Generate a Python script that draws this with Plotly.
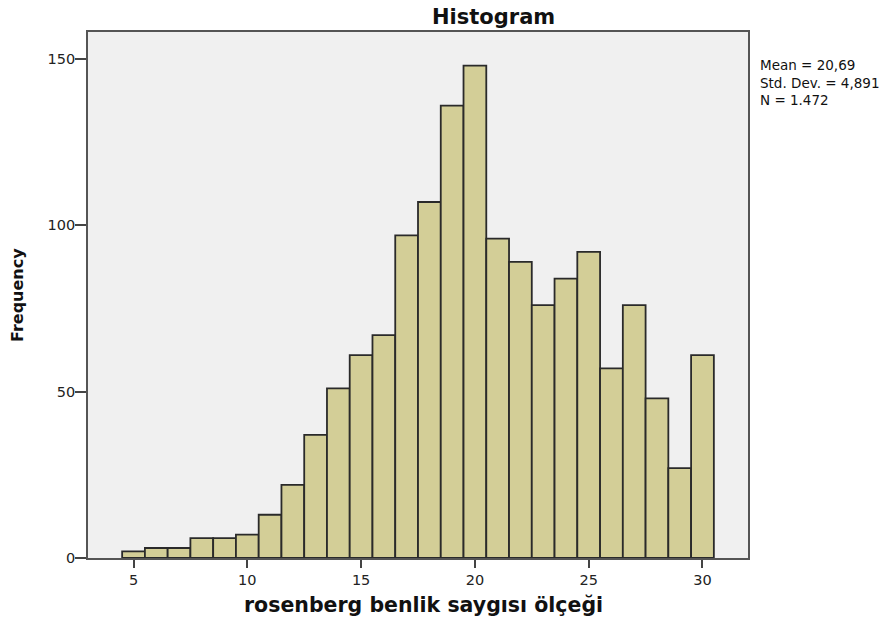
import plotly.graph_objects as go

# Score values (bin centres) and their frequencies
scores = list(range(5, 31))
freq = [2, 3, 3, 6, 6, 7, 13, 22, 37, 51, 61, 67, 97, 107, 136, 148,
        96, 89, 76, 84, 92, 57, 76, 48, 27, 61]

x_ticks = [5, 10, 15, 20, 25, 30]
y_ticks = [0, 50, 100, 150]

stats_lines = ["Mean = 20,69", "Std. Dev. = 4,891", "N = 1.472"]

FONT = "DejaVu Sans, Verdana, sans-serif"

# plot area in pixels
L, R, T, B = 88, 748, 32, 558
W, H = 894, 622
plot_h = B - T
plot_w = R - L


def py(pix):
    """Paper y coordinate for a pixel row."""
    return (B - pix) / plot_h


def px(pix):
    """Paper x coordinate for a pixel column."""
    return (pix - L) / plot_w


fig = go.Figure(
    go.Bar(
        x=scores,
        y=freq,
        width=1,
        marker=dict(color="#d3ce97", line=dict(color="#2a2a2a", width=1.8)),
        hoverinfo="x+y",
    )
)

annotations = [
    dict(text="<b>Histogram</b>", x=px(493), y=py(16.5), xanchor="center",
         yanchor="middle", font=dict(size=21, family=FONT, color="#111")),
    dict(text="<b>rosenberg benlik saygısı ölçeği</b>", x=px(424), y=py(605),
         xanchor="center", yanchor="middle",
         font=dict(size=20.5, family=FONT, color="#111")),
    dict(text="<b>Frequency</b>", x=px(17), y=py(295), textangle=-90,
         xanchor="center", yanchor="middle",
         font=dict(size=16, family=FONT, color="#111")),
    dict(text="<br>".join(stats_lines), x=px(758), y=py(82.5), xanchor="left",
         yanchor="middle", align="left",
         font=dict(size=13.5, family=FONT, color="#111")),
]
for a in annotations:
    a.update(xref="paper", yref="paper", showarrow=False)

fig.update_layout(
    width=W,
    height=H,
    margin=dict(l=L, r=W - R, t=T, b=H - B),
    paper_bgcolor="white",
    plot_bgcolor="#f0f0f0",
    showlegend=False,
    font=dict(family=FONT, color="#222"),
    annotations=annotations,
)

fig.update_xaxes(
    range=[3.0, 32.0],
    tickvals=x_ticks,
    ticks="outside",
    ticklen=8,
    tickwidth=1.5,
    tickcolor="#444",
    showline=True,
    linecolor="#555",
    linewidth=1.8,
    mirror=True,
    showgrid=False,
    zeroline=False,
    automargin=False,
    tickfont=dict(size=14.5, family=FONT, color="#222"),
)

fig.update_yaxes(
    range=[0, 158.1],
    tickvals=y_ticks,
    ticks="outside",
    ticklen=11,
    ticklabelstandoff=-3,
    tickwidth=1.5,
    tickcolor="#444",
    showline=True,
    linecolor="#555",
    linewidth=1.8,
    mirror=True,
    showgrid=False,
    zeroline=False,
    automargin=False,
    tickfont=dict(size=14.5, family=FONT, color="#222"),
)

fig.write_html("out.html")
